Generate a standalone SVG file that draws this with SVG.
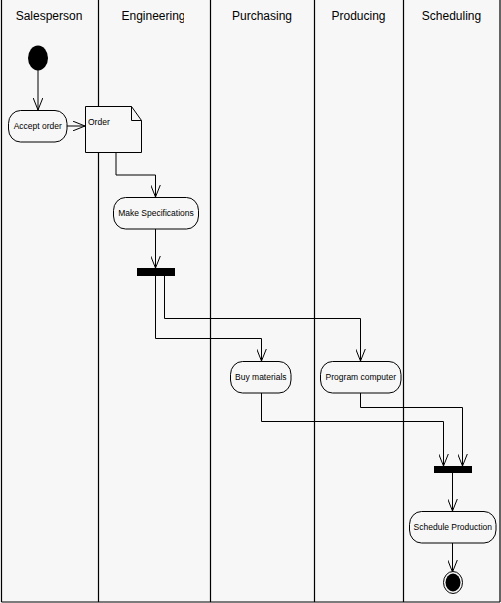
<svg xmlns="http://www.w3.org/2000/svg" width="501" height="603" viewBox="0 0 501 603">
  <style>
    .bg { fill: #f7f7f7; }
    .lane { stroke: #000; stroke-width: 1.2; fill: none; }
    .hdr { font-family: "Liberation Sans", Arial, sans-serif; font-size: 12px; fill: #000; text-anchor: middle; }
    .lbl { font-family: "Liberation Sans", Arial, sans-serif; font-size: 8.5px; fill: #000; text-anchor: middle; }
    .act { fill: #f7f7f7; stroke: #000; stroke-width: 1; }
    .bar { fill: #000; }
    .conn { fill: none; stroke: #000; stroke-width: 1; marker-end: url(#arrow); }
  </style>
  <defs>
    <marker id="arrow" viewBox="0 0 13 10" refX="12.5" refY="5" markerWidth="13" markerHeight="10" markerUnits="userSpaceOnUse" orient="auto">
      <path d="M0,0 L12.5,5 L0,10" fill="none" stroke="#000" stroke-width="1"/>
    </marker>
    <clipPath id="engClip">
      <rect x="99" y="0" width="85" height="30"/>
    </clipPath>
  </defs>

  <rect class="bg" x="0" y="0" width="501" height="603"/>

  <g id="swimlanes">
    <line class="lane" x1="1.5" y1="0" x2="1.5" y2="602"/>
    <line class="lane" x1="98.5" y1="0" x2="98.5" y2="602"/>
    <line class="lane" x1="210.5" y1="0" x2="210.5" y2="602"/>
    <line class="lane" x1="314.5" y1="0" x2="314.5" y2="602"/>
    <line class="lane" x1="403.5" y1="0" x2="403.5" y2="602"/>
    <line class="lane" x1="500" y1="0" x2="500" y2="602"/>
    <line class="lane" x1="1.5" y1="602" x2="500" y2="602"/>
    <text class="hdr" x="49" y="20">Salesperson</text>
    <text class="hdr" x="153.5" y="20" clip-path="url(#engClip)">Engineering</text>
    <text class="hdr" x="262" y="20">Purchasing</text>
    <text class="hdr" x="358.5" y="20">Producing</text>
    <text class="hdr" x="451.5" y="20">Scheduling</text>
  </g>

  <g id="connectors">
    <path class="conn" d="M38,70 L38,110"/>
    <path class="conn" d="M67,126 L85,126"/>
    <path class="conn" d="M116,152 L116,175 L155.5,175 L155.5,197"/>
    <path class="conn" d="M155.5,229 L155.5,268"/>
    <path class="conn" d="M155.5,276 L155.5,338.5 L261.5,338.5 L261.5,361"/>
    <path class="conn" d="M164.5,276 L164.5,318.5 L360.5,318.5 L360.5,361"/>
    <path class="conn" d="M261.5,393 L261.5,421.5 L443.5,421.5 L443.5,466"/>
    <path class="conn" d="M360.5,393 L360.5,407.5 L462.5,407.5 L462.5,466"/>
    <path class="conn" d="M452.5,473 L452.5,511"/>
    <path class="conn" d="M452.5,543 L452.5,572"/>
  </g>

  <g id="start">
    <ellipse cx="38" cy="58" rx="10" ry="12.5" fill="#000"/>
  </g>

  <g id="accept-order">
    <rect class="act" x="8.5" y="110.5" width="58.5" height="31.5" rx="12" ry="13"/>
    <text class="lbl" x="37.8" y="129">Accept order</text>
  </g>

  <g id="order">
    <path class="act" d="M85.5,106.5 L131.5,106.5 L141.5,120.5 L141.5,152.5 L85.5,152.5 Z"/>
    <path d="M131.5,106.5 L131.5,120.5 L141.5,120.5" fill="none" stroke="#000" stroke-width="1"/>
    <text x="88" y="125" font-family="Liberation Sans, Arial, sans-serif" font-size="8.5" fill="#000">Order</text>
  </g>

  <g id="make-specifications">
    <rect class="act" x="113.5" y="197.5" width="85" height="31.5" rx="12" ry="13"/>
    <text class="lbl" x="156" y="216">Make Specifications</text>
  </g>

  <g id="fork">
    <rect class="bar" x="137" y="268" width="38" height="8"/>
  </g>

  <g id="buy-materials">
    <rect class="act" x="230.5" y="361.5" width="60.5" height="31.5" rx="12" ry="13"/>
    <text class="lbl" x="260.8" y="380">Buy materials</text>
  </g>

  <g id="program-computer">
    <rect class="act" x="320.5" y="361.5" width="80.5" height="31.5" rx="12" ry="13"/>
    <text class="lbl" x="360.8" y="380">Program computer</text>
  </g>

  <g id="join">
    <rect class="bar" x="434" y="466" width="38" height="7"/>
  </g>

  <g id="schedule-production">
    <rect class="act" x="409.5" y="511.5" width="86.5" height="31.5" rx="12" ry="13"/>
    <text class="lbl" x="452.8" y="530">Schedule Production</text>
  </g>

  <g id="end">
    <ellipse cx="453" cy="582.5" rx="9.5" ry="11" fill="#f7f7f7" stroke="#000" stroke-width="1"/>
    <ellipse cx="453" cy="582.5" rx="7.5" ry="9" fill="#000"/>
  </g>
</svg>
